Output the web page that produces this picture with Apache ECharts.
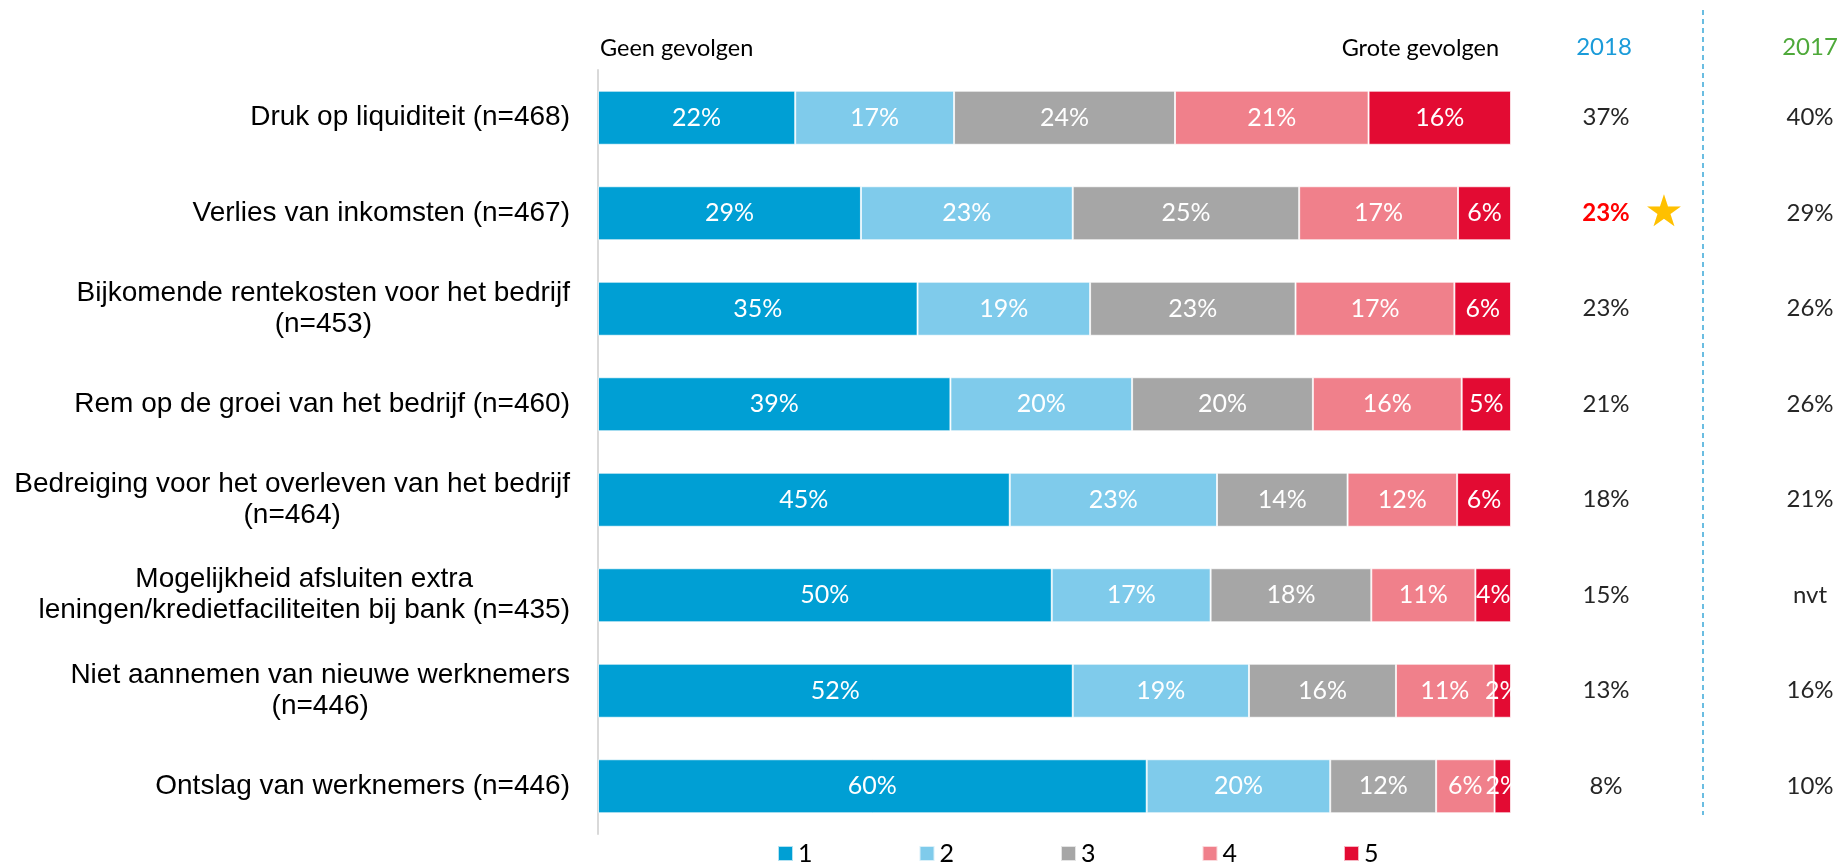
<!DOCTYPE html>
<html>
<head>
<meta charset="utf-8">
<script src="https://cdn.jsdelivr.net/npm/echarts@6/dist/echarts.min.js"></script>
<style>html,body{margin:0;padding:0;background:#fff;}#c{width:1840px;height:865px;}</style>
</head>
<body>
<div id="c"></div>
<script>
var categories = [
  'Druk op liquiditeit (n=468)',
  'Verlies van inkomsten (n=467)',
  'Bijkomende rentekosten voor het bedrijf\n(n=453)',
  'Rem op de groei van het bedrijf (n=460)',
  'Bedreiging voor het overleven van het bedrijf\n(n=464)',
  'Mogelijkheid afsluiten extra\nleningen/kredietfaciliteiten bij bank (n=435)',
  'Niet aannemen van nieuwe werknemers\n(n=446)',
  'Ontslag van werknemers (n=446)'
];
var seriesNames = ['1', '2', '3', '4', '5'];
var score1 = [21.6, 28.8, 35.0, 38.6, 45.1, 49.7, 52.0, 60.1];
var score2 = [17.4, 23.2, 18.9, 19.9, 22.7, 17.4, 19.3, 20.1];
var score3 = [24.2, 24.8, 22.5, 19.8, 14.3, 17.6, 16.1, 11.6];
var score4 = [21.2, 17.4, 17.4, 16.3, 12.0, 11.4, 10.7, 6.4];
var score5 = [15.6, 5.8, 6.2, 5.4, 5.9, 3.9, 1.9, 1.8];
var values2018 = ['37%', '23%', '23%', '21%', '18%', '15%', '13%', '8%'];
var values2017 = ['40%', '29%', '26%', '26%', '21%', 'nvt', '16%', '10%'];
var highlight2018Index = 1;

var colors = ['#009fd4', '#7fcbeb', '#a6a6a6', '#f0808b', '#e30b33'];
var allScores = [score1, score2, score3, score4, score5];

var chart = echarts.init(document.getElementById('c'));
var pctFont = 'Lato, "Open Sans", sans-serif';

var series = allScores.map(function (arr, i) {
  return {
    name: seriesNames[i],
    type: 'bar',
    stack: 'total',
    barWidth: 54,
    data: arr,
    itemStyle: { color: colors[i], borderColor: 'rgba(255,255,255,0.7)', borderWidth: 1 },
    label: {
      show: true,
      position: 'inside',
      color: '#fff',
      fontFamily: pctFont,
      fontSize: 25,
      formatter: function (p) { return Math.round(p.value) + '%'; }
    },
    emphasis: { disabled: true },
    animation: false
  };
});

var option = {
  animation: false,
  grid: { left: 598, top: 70, width: 913, height: 764, containLabel: false },
  legend: {
    data: seriesNames,
    left: 772,
    top: 836,
    itemWidth: 15,
    itemHeight: 15,
    itemGap: 106,
    icon: 'rect',
    textStyle: { fontFamily: pctFont, fontSize: 25, color: '#000' }
  },
  xAxis: { type: 'value', min: 0, max: 100, show: false },
  yAxis: [
    {
      type: 'category',
      data: categories,
      inverse: true,
      axisLine: { show: true, lineStyle: { color: '#d9d9d9', width: 2 } },
      axisTick: { show: false },
      axisLabel: {
        margin: 28,
        formatter: function (v) {
          return v.split('\n').map(function (l) { return '{c|' + l + '}'; }).join('\n');
        },
        rich: {
          c: { align: 'center', fontFamily: '"Liberation Sans", Arial, sans-serif', fontSize: 28, lineHeight: 31, color: '#000' }
        }
      }
    },
    {
      type: 'category',
      data: categories,
      inverse: true,
      position: 'right',
      axisLine: { show: false },
      axisTick: { show: false },
      axisLabel: {
        align: 'center',
        margin: 95,
        formatter: function (v, idx) {
          return idx === highlight2018Index ? '{r|' + values2018[idx] + '}' : '{n|' + values2018[idx] + '}';
        },
        rich: {
          n: { fontFamily: pctFont, fontSize: 24, color: '#262626' },
          r: { fontFamily: pctFont, fontSize: 24, color: '#ff0000', fontWeight: 'bold' }
        }
      }
    },
    {
      type: 'category',
      data: categories,
      inverse: true,
      position: 'right',
      axisLine: { show: false },
      axisTick: { show: false },
      axisLabel: {
        align: 'center',
        margin: 299,
        fontFamily: pctFont,
        fontSize: 24,
        color: '#262626',
        formatter: function (v, idx) { return values2017[idx]; }
      }
    }
  ],
  series: series
};
chart.setOption(option);

var starY = chart.convertToPixel({ yAxisIndex: 0 }, categories[highlight2018Index]);
chart.setOption({
  graphic: [
    { type: 'text', left: 600, top: 36, style: { text: 'Geen gevolgen', font: '23.5px Lato, sans-serif', fill: '#000' } },
    { type: 'text', right: 1840 - 1499, top: 36, style: { text: 'Grote gevolgen', font: '23.5px Lato, sans-serif', fill: '#000' } },
    { type: 'text', x: 1604, y: 47, style: { text: '2018', font: '24px Lato, sans-serif', fill: '#1a9bd9', align: 'center', verticalAlign: 'middle' } },
    { type: 'text', x: 1810, y: 47, style: { text: '2017', font: '24px Lato, sans-serif', fill: '#4ea93a', align: 'center', verticalAlign: 'middle' } },
    { type: 'line', shape: { x1: 1703, y1: 10, x2: 1703, y2: 815 }, style: { stroke: '#3aa8d8', lineWidth: 1.5, lineDash: [5, 4] } },
    { type: 'text', x: 1664, y: starY + 1, style: { text: '★', font: '44px "DejaVu Sans", sans-serif', fill: '#ffc000', align: 'center', verticalAlign: 'middle' } }
  ]
});
</script>
</body>
</html>
